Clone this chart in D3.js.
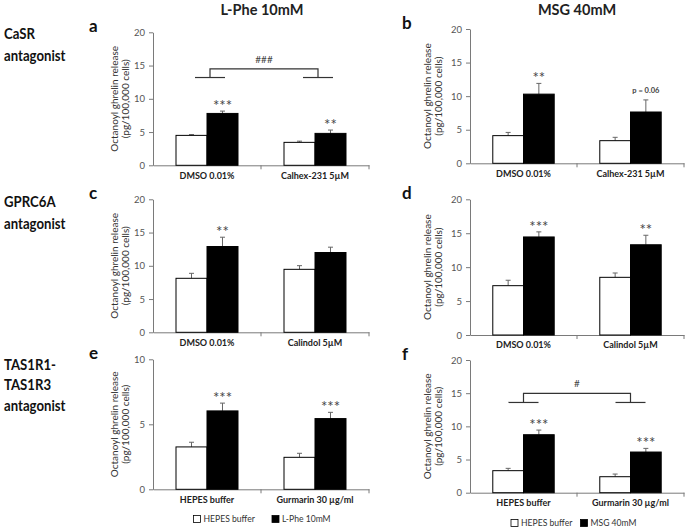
<!DOCTYPE html>
<html><head><meta charset="utf-8">
<script src="https://cdn.jsdelivr.net/npm/d3@7"></script>
<style>body{margin:0;background:#fff}svg{display:block}text{font-family:Lato,"Open Sans",sans-serif}</style>
</head><body><svg id="chart" width="685" height="528"></svg>
<script>
// ---- data ----
const columnTitles = ["L-Phe 10mM", "MSG 40mM"];
const rowLabels = [["CaSR", "antagonist"], ["GPRC6A", "antagonist"], ["TAS1R1-", "TAS1R3", "antagonist"]];
const panelLetters = ["a", "b", "c", "d", "e", "f"];
const yTitleLines = ["Octanoyl ghrelin release", "(pg/100,000 cells)"];
const categoriesRow1 = ["DMSO 0.01%", "Calhex-231 5\u00b5M"];
const categoriesRow2 = ["DMSO 0.01%", "Calindol 5\u00b5M"];
const categoriesRow3 = ["HEPES buffer", "Gurmarin 30 \u00b5g/ml"];
const yTicks20 = [0, 5, 10, 15, 20];
const yTicks10 = [0, 5, 10];
const legendLeft = ["HEPES buffer", "L-Phe 10mM"];
const legendRight = ["HEPES buffer", "MSG 40mM"];

const hepesA = [4.5, 3.45],  hepesErrA = [0.12, 0.18], lpheA = [7.8, 4.8],   lpheErrA = [0.35, 0.5];
const hepesB = [4.12, 3.37], hepesErrB = [0.48, 0.5],  msgB = [10.3, 7.64],  msgErrB = [1.6, 1.8];
const hepesC = [8.12, 9.47], hepesErrC = [0.75, 0.55], lpheC = [12.9, 12.0], lpheErrC = [1.4, 0.8];
const hepesD = [7.27, 8.5],  hepesErrD = [0.8, 0.64],  msgD = [14.45, 13.3], msgErrD = [0.75, 1.4];
const hepesE = [3.26, 2.46], hepesErrE = [0.36, 0.31], lpheE = [6.03, 5.44], lpheErrE = [0.6, 0.48];
const hepesF = [3.32, 2.41], hepesErrF = [0.35, 0.4],  msgF = [8.74, 6.13],  msgErrF = [0.7, 0.55];

const sigA = ["***", "**"], sigB = ["**", "p = 0.06"], sigC = ["**", ""];
const sigD = ["***", "**"], sigE = ["***", "***"], sigF = ["***", "***"];
const bracketA = {label: "###", top: 14.5, legs: 13.2};
const bracketF = {label: "#", top: 14.97, legs: 13.6};

// ---- drawing ----
const svg = d3.select("#chart");
const AXIS = "#7a7a7a";

// column titles
svg.selectAll("text.coltitle").data(columnTitles).enter().append("text")
  .attr("x", (d, i) => i === 0 ? 262 : 577).attr("y", 15)
  .attr("text-anchor", "middle").attr("font-size", 14.5).attr("font-weight", "bold").attr("fill", "#222")
  .text(d => d);

// row labels (narrowed horizontally to mimic the condensed original face)
const rowBaselines = [[39, 61], [207, 229], [370, 390, 411]];
rowLabels.forEach((lines, r) => {
  svg.append("g").attr("transform", "translate(4,0) scale(0.85,1)")
    .selectAll("text").data(lines).enter().append("text")
    .attr("x", 0).attr("y", (d, i) => rowBaselines[r][i])
    .attr("font-size", 15.5).attr("font-weight", "bold").attr("fill", "#111").text(d => d);
});

function drawPanel(o) {
  const g = svg.append("g");
  const x = d3.scaleBand().domain(o.cats).range([o.x0, o.x1]).paddingInner(0).paddingOuter(0);
  const sub = d3.scaleBand().domain(["hepes", "treat"]).range([0, x.bandwidth()]).paddingInner(0).paddingOuter(0.742);
  const y = d3.scaleLinear().domain([0, o.max]).range([o.yBot, o.yTop]);

  // y axis
  const ya = g.append("g").attr("transform", `translate(${o.x0},0)`)
    .call(d3.axisLeft(y).tickValues(o.ticks).tickSize(4).tickPadding(4).tickSizeOuter(0));
  ya.select(".domain").attr("stroke", AXIS);
  ya.selectAll(".tick line").attr("stroke", AXIS);
  ya.selectAll(".tick text").attr("font-size", 9.5).attr("fill", "#555").attr("font-family", "Lato");

  // x axis
  const xa = g.append("g").attr("transform", `translate(0,${o.yBot})`)
    .call(d3.axisBottom(x).tickSize(0).tickPadding(7).tickSizeOuter(0));
  xa.select(".domain").attr("stroke", AXIS);
  xa.selectAll(".tick text").attr("font-size", 9).attr("font-weight", "bold").attr("fill", "#222").attr("font-family", "Lato");
  const bounds = o.cats.slice(1).map(c => x(c)).concat([o.x1]);
  g.selectAll("line.xtick").data(bounds).enter().append("line")
    .attr("x1", d => d).attr("x2", d => d).attr("y1", o.yBot).attr("y2", o.yBot + 4).attr("stroke", AXIS);

  // y title
  const tcx = o.titleX, tcy = (o.yTop + o.yBot) / 2;
  g.selectAll("text.ytitle").data(yTitleLines).enter().append("text")
    .attr("transform", (d, i) => `translate(${tcx + i * 11.5},${tcy}) rotate(-90)`)
    .attr("text-anchor", "middle").attr("dy", "0.35em").attr("font-size", 10).attr("fill", "#333").text(d => d);

  // panel letter
  g.append("text").attr("x", o.letterX).attr("y", o.yTop).attr("font-size", 17).attr("font-weight", "bold")
    .attr("fill", "#111").text(o.letter);

  const rows = o.cats.map((c, i) => ({cat: c, hepes: o.hepes[i], hErr: o.hErr[i], treat: o.treat[i], tErr: o.tErr[i], sig: o.sig[i]}));
  const bars = [];
  rows.forEach(r => {
    bars.push({cat: r.cat, key: "hepes", v: r.hepes, e: r.hErr});
    bars.push({cat: r.cat, key: "treat", v: r.treat, e: r.tErr});
  });
  const cx = d => x(d.cat) + sub(d.key) + sub.bandwidth() / 2;

  // error bars
  g.selectAll("line.err").data(bars).enter().append("line")
    .attr("x1", cx).attr("x2", cx).attr("y1", d => y(d.v)).attr("y2", d => y(d.v + d.e))
    .attr("stroke", "#666").attr("stroke-width", 1);
  g.selectAll("line.cap").data(bars).enter().append("line")
    .attr("x1", d => cx(d) - 2.5).attr("x2", d => cx(d) + 2.5).attr("y1", d => y(d.v + d.e)).attr("y2", d => y(d.v + d.e))
    .attr("stroke", "#666").attr("stroke-width", 1);

  // bars
  g.selectAll("rect.bar").data(bars).enter().append("rect")
    .attr("x", d => x(d.cat) + sub(d.key)).attr("width", sub.bandwidth())
    .attr("y", d => y(d.v)).attr("height", d => o.yBot - y(d.v))
    .attr("fill", d => d.key === "hepes" ? "#fff" : "#000").attr("stroke", "#000").attr("stroke-width", 1);

  // significance
  g.selectAll("text.sig").data(rows).enter().append("text")
    .attr("x", d => x(d.cat) + sub("treat") + sub.bandwidth() / 2)
    .attr("y", d => y(d.treat + d.tErr) - (d.sig.startsWith("p") ? 7 : 0))
    .attr("text-anchor", "middle")
    .attr("font-size", d => d.sig.startsWith("p") ? 7.5 : 15)
    .attr("font-weight", d => d.sig.startsWith("p") ? "bold" : "normal")
    .attr("fill", "#444").text(d => d.sig);

  // bracket
  if (o.bracket) {
    const b = o.bracket;
    const vx = o.cats.map(c => x(c) + x.bandwidth() / 2 + o.bracketShift);
    const path = d3.path();
    path.moveTo(vx[0], y(b.legs)); path.lineTo(vx[0], y(b.top)); path.lineTo(vx[1], y(b.top)); path.lineTo(vx[1], y(b.legs));
    g.append("path").attr("d", path.toString()).attr("fill", "none").attr("stroke", "#333").attr("stroke-width", 1.2);
    g.selectAll("line.leg").data(vx).enter().append("line")
      .attr("x1", d => d - 15).attr("x2", d => d + 15).attr("y1", y(b.legs)).attr("y2", y(b.legs))
      .attr("stroke", "#333").attr("stroke-width", 1.2);
    g.append("text").attr("x", (vx[0] + vx[1]) / 2).attr("y", y(b.top) - 6).attr("text-anchor", "middle")
      .attr("font-size", 10).attr("fill", "#444").text(b.label);
  }
}

const L = {x0: 153, x1: 369, titleX: 114, letterX: 89};
const R = {x0: 470, x1: 684, titleX: 427, letterX: 402};
drawPanel({...L, yTop: 32.3, yBot: 165.3, max: 20, ticks: yTicks20, cats: categoriesRow1, hepes: hepesA, hErr: hepesErrA, treat: lpheA, tErr: lpheErrA, sig: sigA, letter: panelLetters[0], bracket: bracketA, bracketShift: 3});
drawPanel({...R, yTop: 29, yBot: 163.3, max: 20, ticks: yTicks20, cats: categoriesRow1, hepes: hepesB, hErr: hepesErrB, treat: msgB, tErr: msgErrB, sig: sigB, letter: panelLetters[1]});
drawPanel({...L, yTop: 199.3, yBot: 332.3, max: 20, ticks: yTicks20, cats: categoriesRow2, hepes: hepesC, hErr: hepesErrC, treat: lpheC, tErr: lpheErrC, sig: sigC, letter: panelLetters[2]});
drawPanel({...R, yTop: 199.3, yBot: 335, max: 20, ticks: yTicks20, cats: categoriesRow2, hepes: hepesD, hErr: hepesErrD, treat: msgD, tErr: msgErrD, sig: sigD, letter: panelLetters[3]});
drawPanel({...L, yTop: 359.3, yBot: 489.3, max: 10, ticks: yTicks10, cats: categoriesRow3, hepes: hepesE, hErr: hepesErrE, treat: lpheE, tErr: lpheErrE, sig: sigE, letter: panelLetters[4]});
drawPanel({...R, yTop: 360, yBot: 492.7, max: 20, ticks: yTicks20, cats: categoriesRow3, hepes: hepesF, hErr: hepesErrF, treat: msgF, tErr: msgErrF, sig: sigF, letter: panelLetters[5], bracket: bracketF, bracketShift: 0});

// legends
function legend(items, boxXs, yc) {
  const g = svg.append("g");
  items.forEach((t, i) => {
    g.append("rect").attr("x", boxXs[i] + 0.5).attr("y", yc - 3.5).attr("width", 7).attr("height", 7)
      .attr("fill", i === 0 ? "#fff" : "#000").attr("stroke", "#000").attr("stroke-width", 0.8);
    g.append("text").attr("x", boxXs[i] + 10.5).attr("y", yc).attr("dy", "0.35em")
      .attr("font-size", 8.6).attr("fill", "#333").text(t);
  });
}
legend(legendLeft, [193, 271.5], 519);
legend(legendRight, [510.5, 580], 523);
</script></body></html>
